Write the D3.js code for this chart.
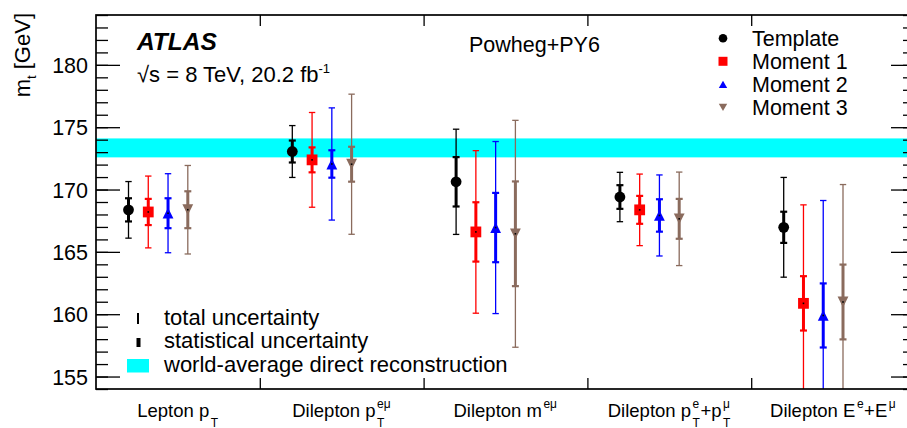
<!DOCTYPE html>
<html>
<head>
<meta charset="utf-8">
<script src="https://cdn.jsdelivr.net/npm/d3@7"></script>
<style>
  html, body { margin: 0; padding: 0; background: #fff; }
  svg { display: block; }
  text { font-family: "Liberation Sans", Arial, Helvetica, sans-serif; fill: #000; }
</style>
</head>
<body>
<svg id="chart" width="907" height="428"></svg>
<script>
// ---------------- data ----------------
const categories = ["Lepton pT", "Dilepton pT eμ", "Dilepton m eμ", "Dilepton pTe+pTμ", "Dilepton Ee+Eμ"];
const series = ["Template", "Moment 1", "Moment 2", "Moment 3"];

const templateVal = [168.37, 173.05, 170.62, 169.40, 166.97];
const moment1Val  = [168.20, 172.38, 166.60, 168.37, 160.87];
const moment2Val  = [168.10, 172.05, 166.95, 167.92, 159.90];
const moment3Val  = [168.38, 172.03, 166.45, 167.65, 160.98];

const templateStat = [0.93, 0.88, 1.98, 0.95, 1.25];
const moment1Stat  = [1.05, 1.00, 2.38, 1.12, 2.18];
const moment2Stat  = [1.20, 1.10, 2.78, 1.30, 2.57];
const moment3Stat  = [1.48, 1.40, 4.20, 1.60, 3.00];

const templateTot = [2.27, 2.08, 4.22, 1.98, 4.00];
const moment1Tot  = [2.88, 3.80, 6.52, 2.87, 7.90];
const moment2Tot  = [3.17, 4.50, 6.90, 3.25, 9.22];
const moment3Tot  = [3.55, 5.62, 9.10, 3.75, 9.42];

const worldAvg = 173.34, worldAvgErr = 0.76;

const yMajorTicks = [155, 160, 165, 170, 175, 180];
const yMinorTicks = d3.range(154, 185, 1);

const seriesColors = ["#000000", "#ff0000", "#0000ff", "#8a6b5d"];
const seriesVals = [templateVal, moment1Val, moment2Val, moment3Val];
const seriesStat = [templateStat, moment1Stat, moment2Stat, moment3Stat];
const seriesTot  = [templateTot, moment1Tot, moment2Tot, moment3Tot];

// x labels (rich text parts)
const xLabelParts = [
  [{t: "Lepton p"}, {sub: "T"}],
  [{t: "Dilepton p"}, {sub: "T", sup: "eμ"}],
  [{t: "Dilepton m"}, {sup: "eμ"}],
  [{t: "Dilepton p"}, {sub: "T", sup: "e"}, {t: "+p"}, {sub: "T", sup: "μ"}],
  [{t: "Dilepton E"}, {sup: "e"}, {t: "+E"}, {sup: "μ"}]
];

// ---------------- layout ----------------
const L = 96, R = 915, T = 15, B = 389;
const svg = d3.select("#chart");
svg.append("rect").attr("width", 907).attr("height", 428).attr("fill", "#fff");

const y = d3.scaleLinear().domain([154, 184]).range([B, T]);
const x = d3.scaleBand().domain(categories).range([L, R]).padding(0);
const xi = d3.scalePoint().domain(series).range([32.5, 91.8]);
const xEdge = d3.scaleLinear().domain([0, categories.length]).range([L, R]);

svg.append("defs").append("clipPath").attr("id", "plotclip")
  .append("rect").attr("x", L).attr("y", T).attr("width", R - L).attr("height", B - T);

const plot = svg.append("g").attr("clip-path", "url(#plotclip)");

// world average band
plot.append("rect")
  .attr("x", L).attr("width", R - L)
  .attr("y", y(worldAvg + worldAvgErr))
  .attr("height", y(worldAvg - worldAvgErr) - y(worldAvg + worldAvgErr))
  .attr("fill", "#00ffff");

// markers
function markerPath(kind, s) {
  if (kind === 1) return `M${-s},${-s}H${s}V${s}H${-s}Z`;
  if (kind === 2) return `M0,${-s}L${s},${s}L${-s},${s}Z`;
  if (kind === 3) return `M0,${s}L${s},${-s}L${-s},${-s}Z`;
  return null;
}

series.forEach((sName, si) => {
  const col = seriesColors[si];
  const g = plot.append("g");
  categories.forEach((cat, ci) => {
    const cx = x(cat) + xi(sName);
    const v = seriesVals[si][ci], st = seriesStat[si][ci], tt = seriesTot[si][ci];
    // total uncertainty
    g.append("line").attr("x1", cx).attr("x2", cx).attr("y1", y(v + tt)).attr("y2", y(v - tt))
      .attr("stroke", col).attr("stroke-width", 1.3);
    [v + tt, v - tt].forEach(e => {
      g.append("line").attr("x1", cx - 3.2).attr("x2", cx + 3.2).attr("y1", y(e)).attr("y2", y(e))
        .attr("stroke", col).attr("stroke-width", 1.3);
    });
    // statistical uncertainty
    g.append("line").attr("x1", cx).attr("x2", cx).attr("y1", y(v + st)).attr("y2", y(v - st))
      .attr("stroke", col).attr("stroke-width", 3);
    [v + st, v - st].forEach(e => {
      g.append("line").attr("x1", cx - 3.5).attr("x2", cx + 3.5).attr("y1", y(e)).attr("y2", y(e))
        .attr("stroke", col).attr("stroke-width", 2.2);
    });
    // marker
    if (si === 0) {
      g.append("circle").attr("cx", cx).attr("cy", y(v)).attr("r", 5.4).attr("fill", col);
    } else {
      g.append("path").attr("d", markerPath(si, 5.4)).attr("transform", `translate(${cx},${y(v)})`)
        .attr("fill", col);
      g.append("rect").attr("x", cx - 0.8).attr("y", y(v) - 0.8).attr("width", 1.6).attr("height", 1.6)
        .attr("fill", "#000");
    }
  });
});

// ---------------- axes & frame ----------------
const axStyle = sel => {
  sel.selectAll("line").attr("stroke", "#000").attr("stroke-width", 1.3);
  sel.select(".domain").remove();
};

// left axis
svg.append("g").attr("transform", `translate(${L},0)`)
  .call(d3.axisLeft(y).tickValues(yMinorTicks).tickSize(-12).tickFormat(""))
  .call(axStyle);
const yAxisG = svg.append("g").attr("transform", `translate(${L},0)`)
  .call(d3.axisLeft(y).tickValues(yMajorTicks).tickSize(-24).tickPadding(8).tickFormat(d3.format("d")))
  .call(axStyle);
yAxisG.selectAll("text").attr("font-size", 21.5).attr("font-family", "Liberation Sans, Arial, sans-serif")
  .attr("fill", "#000").attr("dy", "0.36em");

// right axis
svg.append("g").attr("transform", `translate(${R},0)`)
  .call(d3.axisRight(y).tickValues(yMinorTicks).tickSize(-12).tickFormat(""))
  .call(axStyle);
svg.append("g").attr("transform", `translate(${R},0)`)
  .call(d3.axisRight(y).tickValues(yMajorTicks).tickSize(-24).tickFormat(""))
  .call(axStyle);

// bottom/top boundary ticks
svg.append("g").attr("transform", `translate(0,${B})`)
  .call(d3.axisBottom(xEdge).tickValues(d3.range(1, categories.length)).tickSize(-11).tickFormat(""))
  .call(axStyle);
svg.append("g").attr("transform", `translate(0,${T})`)
  .call(d3.axisTop(xEdge).tickValues(d3.range(1, categories.length)).tickSize(-11).tickFormat(""))
  .call(axStyle);

// frame
svg.append("rect").attr("x", L).attr("y", T).attr("width", R - L).attr("height", B - T)
  .attr("fill", "none").attr("stroke", "#000").attr("stroke-width", 1.7);

// ---------------- rich text helper ----------------
function richText(parent, cx, baseY, parts, size, subSize, supDy, subDy, anchor) {
  const g = parent.append("g");
  let cur = 0;
  parts.forEach(p => {
    if (p.t !== undefined) {
      const t = g.append("text").attr("x", cur).attr("y", baseY).attr("font-size", size).text(p.t);
      cur += t.node().getComputedTextLength();
    } else {
      cur += 1.5;
      let w = 0;
      if (p.sup) {
        const t = g.append("text").attr("x", cur).attr("y", baseY + supDy).attr("font-size", subSize).text(p.sup);
        w = Math.max(w, t.node().getComputedTextLength());
      }
      if (p.sub) {
        const t = g.append("text").attr("x", cur).attr("y", baseY + subDy).attr("font-size", subSize).text(p.sub);
        w = Math.max(w, t.node().getComputedTextLength());
      }
      cur += w + 0.5;
    }
  });
  const shift = anchor === "middle" ? cx - cur / 2 : cx;
  g.attr("transform", `translate(${shift},0)`);
  return g;
}

// x category labels
categories.forEach((cat, ci) => {
  richText(svg, x(cat) + x.bandwidth() / 2, 417, xLabelParts[ci], 18.5, 12, -9, 9.5, "middle");
});

// y axis title
const yt = svg.append("text").attr("transform", "rotate(-90)")
  .attr("x", -13).attr("y", 30).attr("text-anchor", "end").attr("font-size", 22);
yt.append("tspan").text("m");
yt.append("tspan").attr("font-size", 13).attr("dy", 6).text("t");
yt.append("tspan").attr("dy", -6).text(" [GeV]");

// ATLAS label
svg.append("text").attr("x", 137).attr("y", 50).attr("font-size", 24.5)
  .attr("font-weight", "bold").attr("font-style", "italic").text("ATLAS");
const en = svg.append("text").attr("x", 137).attr("y", 82).attr("font-size", 22);
en.append("tspan").text("√s = 8 TeV, 20.2 fb");
en.append("tspan").attr("font-size", 13).attr("dy", -9).text("-1");

svg.append("text").attr("x", 469).attr("y", 51.5).attr("font-size", 21.5).text("Powheg+PY6");

// top-right legend
const legX = 723, legTextX = 752, legBase = 46.3, legStep = 23;
series.forEach((sName, si) => {
  const by = legBase + si * legStep;
  const my = by - 8;
  if (si === 0) {
    svg.append("circle").attr("cx", legX).attr("cy", my).attr("r", 4.3).attr("fill", seriesColors[si]);
  } else if (si === 1) {
    svg.append("path").attr("d", markerPath(1, 4.5)).attr("transform", `translate(${legX},${my})`).attr("fill", seriesColors[si]);
  } else {
    svg.append("path").attr("d", si === 2 ? "M0,-3.6L4.2,3.6L-4.2,3.6Z" : "M0,3.6L4.2,-3.6L-4.2,-3.6Z")
      .attr("transform", `translate(${legX},${my})`).attr("fill", seriesColors[si]);
  }
  svg.append("text").attr("x", legTextX).attr("y", by).attr("font-size", 21.5).text(sName);
});

// bottom-left legend
svg.append("rect").attr("x", 137).attr("y", 313).attr("width", 2).attr("height", 11).attr("fill", "#000");
svg.append("rect").attr("x", 136.5).attr("y", 338).attr("width", 4).attr("height", 9).attr("fill", "#000");
svg.append("rect").attr("x", 127).attr("y", 359).attr("width", 22).attr("height", 13.5).attr("fill", "#00ffff");
const legB = ["total uncertainty", "statistical uncertainty", "world-average direct reconstruction"];
legB.forEach((t, i) => {
  svg.append("text").attr("x", 164).attr("y", 325 + i * 23.3).attr("font-size", 22).text(t);
});
</script>
</body>
</html>
